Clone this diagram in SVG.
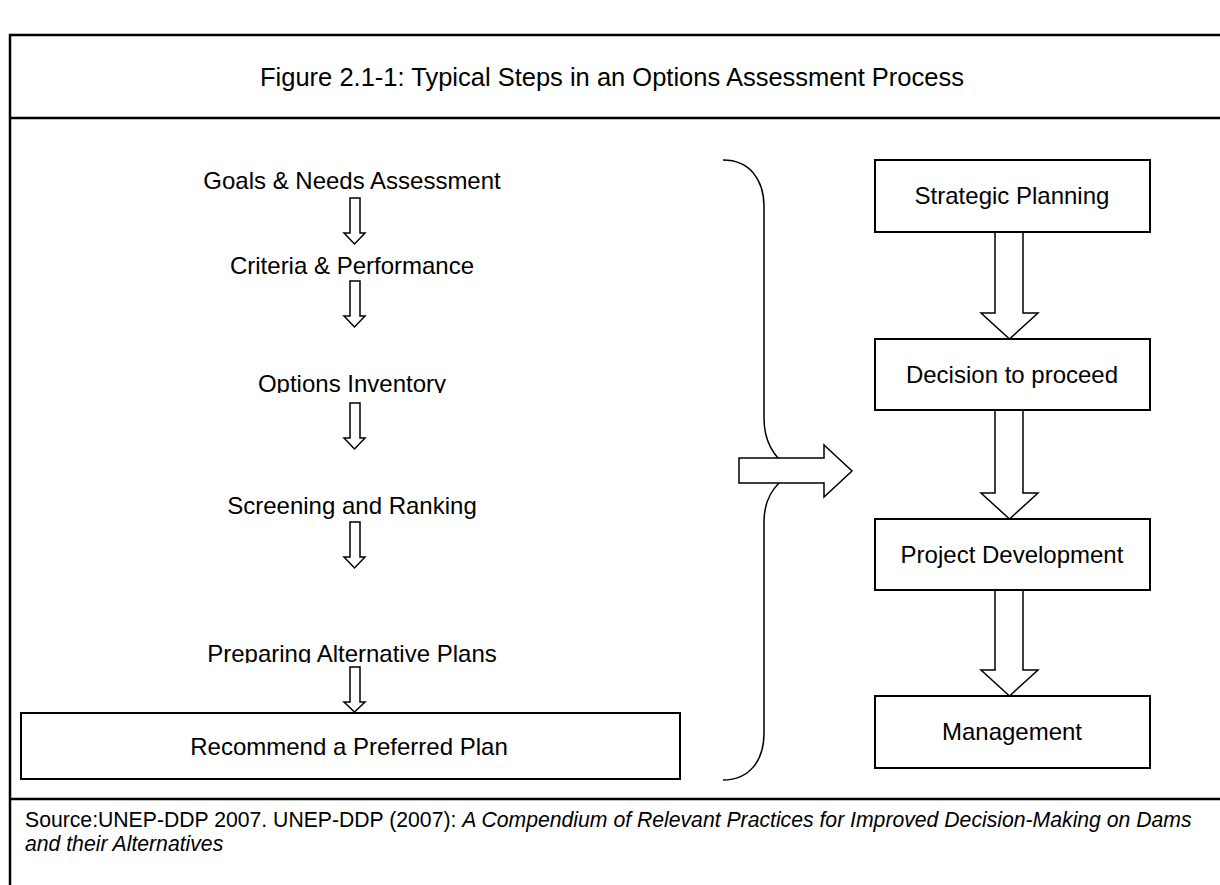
<svg xmlns="http://www.w3.org/2000/svg" width="1220" height="885" viewBox="0 0 1220 885">
<style>
text{font-family:"Liberation Sans",Arial,sans-serif;fill:#000}
.frame{fill:none;stroke:#000;stroke-width:2.5}
.box{fill:#fff;stroke:#000;stroke-width:2}
.arr{fill:#fff;stroke:#000;stroke-width:1.5;stroke-linejoin:miter}
.brace{fill:none;stroke:#000;stroke-width:1.5}
.lbl{font-size:24px;text-anchor:middle}
.src{font-size:21.2px}
</style>
<defs>
<clipPath id="clipOpt"><rect x="0" y="360" width="700" height="33"/></clipPath>
<clipPath id="clipPrep"><rect x="0" y="630" width="700" height="33"/></clipPath>
</defs>
<rect width="1220" height="885" fill="#fff"/>
<g id="frame">
<rect class="frame" x="10" y="35" width="1220" height="900"/>
<line class="frame" x1="10" y1="118" x2="1220" y2="118"/>
<line class="frame" x1="10" y1="799" x2="1220" y2="799"/>
</g>
<g id="title"><text x="612" y="86" style="font-size:25.5px" text-anchor="middle">Figure 2.1-1: Typical Steps in an Options Assessment Process</text></g>

<g id="connectors">
<path class="arr" d="M350,198 H360 V233 H365 L354.5,244 L344,233 H350 Z"/>
<path class="arr" d="M350,281 H360 V316 H365 L354.5,327 L344,316 H350 Z"/>
<path class="arr" d="M350,403 H360 V438 H365 L354.5,449 L344,438 H350 Z"/>
<path class="arr" d="M350,522 H360 V557 H365 L354.5,568 L344,557 H350 Z"/>
<path class="arr" d="M350,667 H360 V702 H365 L354.5,712 L344,702 H350 Z"/>
<path class="brace" d="M723,160 C750,160 764,180 764,207 L764,418 C764,440 772,456 792,471 C772,487 764,500 764,522 L764,733 C764,760 750,780 723,780"/>
<polygon class="arr" points="739,458 824,458 824,445 852,471 824,497 824,483 739,483"/>
<path class="arr" d="M995,232 H1023 V313 H1038 L1009.5,339 L981,313 H995 Z"/>
<path class="arr" d="M995,410 H1023 V493 H1038 L1009.5,519 L981,493 H995 Z"/>
<path class="arr" d="M995,590 H1023 V670 H1038 L1009.5,696 L981,670 H995 Z"/>
</g>

<g id="n-goals"><text class="lbl" x="352" y="189">Goals &amp; Needs Assessment</text></g>
<g id="n-criteria"><text class="lbl" x="352" y="274">Criteria &amp; Performance</text></g>
<g id="n-options"><text class="lbl" x="352" y="392" clip-path="url(#clipOpt)">Options Inventory</text></g>
<g id="n-screening"><text class="lbl" x="352" y="514">Screening and Ranking</text></g>
<g id="n-preparing"><text class="lbl" x="352" y="662" clip-path="url(#clipPrep)">Preparing Alternative Plans</text></g>
<g id="n-recommend"><rect class="box" x="21" y="713" width="659" height="66"/><text class="lbl" x="349" y="755">Recommend a Preferred Plan</text></g>

<g id="n-strategic"><rect class="box" x="875" y="160" width="275" height="72"/><text class="lbl" x="1012" y="204">Strategic Planning</text></g>
<g id="n-decision"><rect class="box" x="875" y="339" width="275" height="71"/><text class="lbl" x="1012" y="383">Decision to proceed</text></g>
<g id="n-project"><rect class="box" x="875" y="519" width="275" height="71"/><text class="lbl" x="1012" y="563">Project Development</text></g>
<g id="n-management"><rect class="box" x="875" y="696" width="275" height="72"/><text class="lbl" x="1012" y="740">Management</text></g>

<g id="source"><text class="src" x="25" y="827">Source:UNEP-DDP 2007. UNEP-DDP (2007): <tspan font-style="italic">A Compendium of Relevant Practices for Improved Decision-Making on Dams</tspan></text>
<text class="src" x="25" y="851" font-style="italic">and their Alternatives</text></g>
</svg>
